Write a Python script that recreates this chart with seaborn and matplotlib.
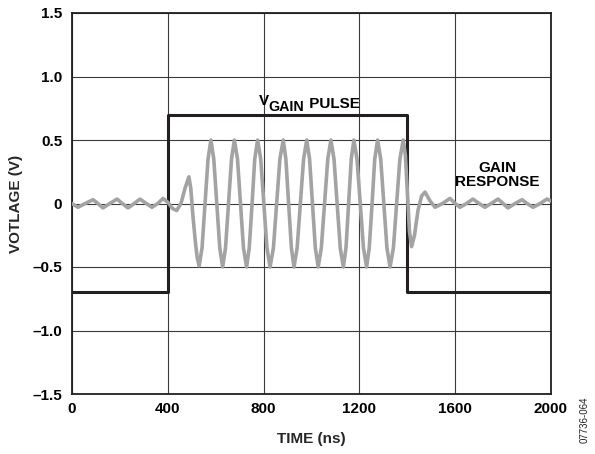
import matplotlib
matplotlib.use("Agg")
import matplotlib.pyplot as plt
import seaborn as sns
import pandas as pd

# ---- data ----
pulse_time = [0, 400, 400, 1400, 1400, 2000]
pulse_volt = [-0.70, -0.70, 0.70, 0.70, -0.70, -0.70]

gain_time = [
    0, 25, 55, 88, 108, 129, 158, 188, 210, 234, 260, 284, 310, 334, 358, 380,
    400, 420, 437, 455, 472, 488, 496, 505, 515, 523, 531,
    543, 555.5, 568, 580, 592, 604.5, 617, 629, 641, 653.5, 666, 678,
    691, 703.5, 716, 729, 740, 752, 763, 775, 788, 801, 814, 827,
    841, 854.5, 868, 882, 893, 904.5, 916, 927, 940, 953.5, 967, 980,
    992, 1004, 1016, 1028, 1041, 1054.5, 1068, 1081, 1094, 1107, 1120, 1133,
    1144, 1155, 1166, 1177, 1190, 1203.5, 1217, 1230, 1241, 1253, 1264, 1276,
    1289, 1302, 1315, 1328, 1342, 1355.5, 1369, 1383,
    1392, 1400, 1409, 1418, 1430, 1445, 1460, 1474,
    1495, 1516, 1547, 1578, 1600, 1620, 1647, 1674, 1700, 1724, 1750, 1779,
    1800, 1820, 1850, 1879, 1900, 1925, 1955, 1983, 2000,
]
gain_volt = [
    0.0, -0.03, 0.0, 0.03, 0.0, -0.035, 0.0, 0.035, 0.0, -0.035, 0.0, 0.035, 0.0, -0.03, 0.0, 0.04,
    0.01, -0.04, -0.055, 0.0, 0.12, 0.21, 0.12, -0.10, -0.30, -0.43, -0.49,
    -0.35, 0.0, 0.35, 0.50, 0.35, 0.0, -0.35, -0.50, -0.35, 0.0, 0.35, 0.50,
    0.35, 0.0, -0.35, -0.50, -0.35, 0.0, 0.35, 0.50, 0.35, 0.0, -0.35, -0.50,
    -0.35, 0.0, 0.35, 0.50, 0.35, 0.0, -0.35, -0.50, -0.35, 0.0, 0.35, 0.50,
    0.35, 0.0, -0.35, -0.50, -0.35, 0.0, 0.35, 0.50, 0.35, 0.0, -0.35, -0.50,
    -0.35, 0.0, 0.35, 0.50, 0.35, 0.0, -0.35, -0.50, -0.35, 0.0, 0.35, 0.50,
    0.35, 0.0, -0.35, -0.50, -0.35, 0.0, 0.35, 0.50,
    0.38, 0.10, -0.22, -0.34, -0.25, -0.05, 0.06, 0.09,
    0.02, -0.03, 0.0, 0.04, 0.0, -0.03, 0.0, 0.035, 0.0, -0.03, 0.0, 0.035,
    0.0, -0.035, 0.0, 0.03, 0.0, -0.03, 0.0, 0.035, 0.02,
]

x_ticks = [0, 400, 800, 1200, 1600, 2000]
x_ticklabels = ["0", "400", "800", "1200", "1600", "2000"]
y_ticks = [-1.5, -1.0, -0.5, 0, 0.5, 1.0, 1.5]
y_ticklabels = ["\u20131.5", "\u20131.0", "\u20130.5", "0", "0.5", "1.0", "1.5"]

# ---- style ----
sns.set_theme(style="white")
plt.rcParams["font.family"] = ["Liberation Sans", "DejaVu Sans"]

FS = 11
fig = plt.figure(figsize=(5.95, 4.54), dpi=100)
ax = fig.add_axes([72 / 595, 1 - 394 / 454, (551 - 72) / 595, (394 - 13) / 454])

pulse_df = pd.DataFrame({"t": pulse_time, "v": pulse_volt})
gain_df = pd.DataFrame({"t": gain_time, "v": gain_volt})

ax.grid(True, color="#3a3a3a", linewidth=0.8)
ax.set_axisbelow(True)

sns.lineplot(data=pulse_df, x="t", y="v", ax=ax, color="#231f20", linewidth=2.2,
             sort=False, estimator=None, zorder=3)
sns.lineplot(data=gain_df, x="t", y="v", ax=ax, color="#a3a3a3", linewidth=2.6,
             sort=False, estimator=None, zorder=4)

ax.set_xlim(0, 2000)
ax.set_ylim(-1.5, 1.5)
ax.set_xticks(x_ticks)
ax.set_xticklabels(x_ticklabels, fontweight="bold", fontsize=FS)
ax.set_yticks(y_ticks)
ax.set_yticklabels(y_ticklabels, fontweight="bold", fontsize=FS)
ax.tick_params(axis="y", length=0, pad=7, colors="black")
ax.tick_params(axis="x", length=0, pad=6, colors="black")

for s in ax.spines.values():
    s.set_color("#231f20")
    s.set_linewidth(1.3)

ax.set_xlabel("TIME (ns)", fontweight="bold", fontsize=FS, labelpad=11)
ax.set_ylabel("VOTLAGE (V)", fontweight="bold", fontsize=FS, labelpad=7)

# V_GAIN PULSE label built from three pieces
t_v = ax.text(780, 0.775, "V", ha="left", va="baseline",
              fontsize=FS, fontweight="bold", color="black")
ax.annotate("GAIN", xy=(1, 0), xycoords=t_v, xytext=(-0.5, -2.3),
            textcoords="offset points", ha="left", va="baseline",
            fontsize=10.3, fontweight="bold", color="black")
ax.annotate(" PULSE", xy=(1, 0), xycoords=t_v, xytext=(26, 0),
            textcoords="offset points", ha="left", va="baseline",
            fontsize=FS, fontweight="bold", color="black")

ax.text(1775, 0.224, "GAIN\nRESPONSE", ha="center", va="center",
        fontsize=FS, fontweight="bold", color="black", linespacing=1.0)

fig.text(585 / 595, 1 - 420 / 454, "07736-064", rotation=90, ha="center", va="center",
         fontsize=7, color="#222222")

fig.savefig("out.png", dpi=100)
